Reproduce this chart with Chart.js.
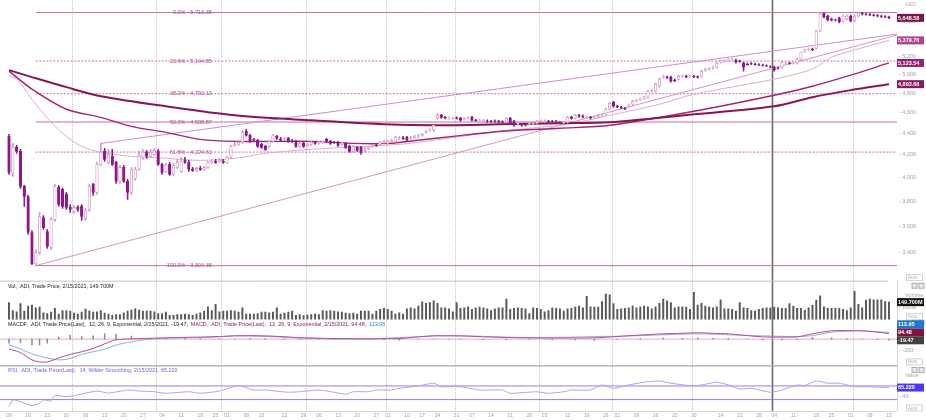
<!DOCTYPE html>
<html>
<head>
<meta charset="utf-8">
<script src="https://cdn.jsdelivr.net/npm/chart.js@4.4.1/dist/chart.umd.min.js"></script>
<style>
  html, body { margin: 0; padding: 0; background: #fff; }
  #wrap { width: 926px; height: 420px; }
</style>
</head>
<body>
<div id="wrap"><canvas id="chart"></canvas></div>
<script>
// daily candles [open, high, low, close], .ADI
const ohlc = [
  [4372,4391,4026,4044],[4035,4305,4008,4268],[4268,4287,4213,4232],[4232,4250,3906,3923],[3923,3931,3756,3838],
  [3838,3847,3535,3550],[3550,3565,3312,3319],[3319,3421,3304.36,3399],[3399,3707,3384,3675],[3667,3683,3573,3588],
  [3558,3573,3429,3444],[3436,3667,3421,3652],[3652,3940,3636,3923],[3914,3931,3756,3772],[3897,3906,3740,3756],
  [3855,3872,3732,3748],[3748,3772,3707,3732],[3715,3764,3699,3748],[3748,3764,3715,3732],[3756,3772,3644,3675],
  [3659,3740,3644,3723],[3732,3940,3715,3923],[3940,3948,3847,3872],[3872,4132,3855,4114],[4114,4305,4105,4222],
  [4232,4259,4141,4159],[4132,4250,4123,4204],[4186,4250,4105,4114],[4132,4141,3948,3965],[3965,4105,3948,4087],
  [4087,4105,3957,3965],[3965,3982,3813,3872],[3872,4087,3855,4070],[3991,4087,3974,4070],[4070,4232,4061,4186],
  [4177,4250,4159,4222],[4222,4241,4168,4186],[4186,4250,4177,4222],[4204,4259,4195,4241],[4232,4250,4105,4114],
  [4114,4123,4026,4044],[4052,4123,4044,4105],[4114,4132,4017,4026],[4026,4123,4017,4105],[4087,4159,4078,4132],
  [4052,4177,4044,4141],[4150,4177,4123,4132],[4132,4150,4052,4070],[4070,4087,4052,4061],[4061,4087,4052,4078],
  [4078,4096,4061,4070],[4070,4096,4061,4087],[4087,4141,4078,4132],[4132,4159,4123,4141],[4141,4159,4123,4132],
  [4141,4168,4132,4150],[4141,4159,4123,4132],[4132,4186,4123,4177],[4177,4287,4168,4278],[4287,4315,4278,4296],
  [4296,4334,4287,4315],[4315,4429,4305,4410],[4419,4438,4372,4381],[4381,4391,4315,4324],[4343,4353,4324,4334],
  [4334,4343,4268,4278],[4296,4305,4259,4268],[4278,4287,4241,4250],[4278,4334,4268,4324],[4324,4391,4315,4381],
  [4372,4381,4343,4353],[4343,4362,4324,4338],[4348,4362,4334,4353],[4353,4362,4315,4324],[4329,4343,4315,4324],
  [4324,4334,4268,4278],[4278,4315,4268,4305],[4305,4315,4268,4278],[4287,4305,4278,4296],[4296,4324,4287,4315],
  [4315,4324,4296,4305],[4305,4324,4296,4315],[4315,4334,4305,4324],[4343,4353,4315,4324],[4324,4334,4296,4305],
  [4315,4324,4305,4310],[4315,4324,4278,4287],[4296,4315,4287,4305],[4305,4315,4259,4268],[4278,4287,4222,4232],
  [4232,4287,4222,4278],[4268,4278,4232,4241],[4268,4278,4204,4222],[4241,4268,4232,4259],[4259,4278,4250,4268],
  [4273,4296,4268,4287],[4287,4296,4278,4282],[4296,4324,4287,4315],[4315,4334,4305,4324],[4305,4334,4296,4324],
  [4324,4343,4315,4334],[4324,4372,4315,4362],[4353,4372,4343,4358],[4358,4372,4343,4348],[4362,4372,4324,4334],
  [4353,4372,4343,4358],[4358,4381,4353,4367],[4372,4391,4362,4376],[4381,4400,4372,4391],[4410,4429,4400,4419],
  [4424,4443,4419,4433],[4429,4477,4419,4477],[4545,4595,4536,4575],[4575,4585,4545,4555],[4555,4565,4540,4550],
  [4545,4560,4536,4548],[4548,4560,4536,4552],[4550,4560,4536,4545],[4545,4555,4516,4526],[4540,4555,4530,4545],
  [4550,4565,4540,4555],[4555,4565,4516,4526],[4526,4536,4516,4521],[4526,4536,4516,4528],[4521,4536,4512,4526],
  [4521,4530,4506,4516],[4516,4526,4506,4512],[4521,4530,4506,4516],[4516,4526,4502,4507],[4512,4521,4502,4507],
  [4511,4550,4502,4545],[4545,4555,4487,4497],[4516,4526,4467,4477],[4492,4502,4482,4495],[4487,4497,4467,4477],
  [4482,4492,4472,4477],[4492,4506,4482,4497],[4492,4506,4482,4497],[4497,4526,4487,4516],[4516,4530,4506,4521],
  [4516,4530,4506,4518],[4516,4526,4502,4511],[4516,4526,4506,4514],[4514,4526,4502,4511],[4506,4516,4492,4502],
  [4502,4516,4492,4506],[4506,4565,4497,4555],[4555,4565,4536,4545],[4545,4585,4536,4575],[4575,4585,4555,4565],
  [4565,4580,4550,4560],[4555,4570,4545,4558],[4555,4565,4540,4550],[4555,4565,4545,4556],[4560,4580,4550,4570],
  [4575,4590,4565,4585],[4585,4645,4575,4635],[4635,4706,4625,4696],[4706,4716,4655,4666],[4666,4676,4650,4660],
  [4655,4665,4640,4650],[4645,4655,4630,4642],[4666,4686,4655,4676],[4686,4727,4676,4716],[4716,4732,4706,4721],
  [4732,4747,4722,4737],[4747,4768,4737,4758],[4758,4830,4747,4819],[4819,4835,4809,4825],[4819,4904,4809,4893],
  [4872,4958,4862,4947],[4968,4990,4958,4979],[4968,4979,4952,4963],[4968,4979,4915,4926],[4936,4947,4920,4931],
  [4947,4990,4936,4979],[4979,4990,4968,4984],[4979,4990,4963,4974],[4979,4990,4968,4981],[4979,4990,4963,4974],
  [4974,4984,4958,4968],[4979,5044,4968,5033],[5044,5066,5033,5055],[5055,5072,5044,5061],[5066,5088,5055,5077],
  [5077,5132,5066,5121],[5132,5155,5121,5143],[5143,5160,5132,5149],[5155,5177,5143,5166],[5166,5177,5155,5168],
  [5155,5166,5121,5132],[5143,5155,5132,5138],[5121,5132,5033,5077],[5110,5121,5099,5105],[5116,5127,5105,5113],
  [5110,5121,5099,5104],[5104,5116,5093,5099],[5099,5110,5088,5097],[5093,5104,5082,5088],[5082,5093,5071,5077],
  [5077,5088,5033,5044],[5066,5077,5055,5064],[5077,5143,5066,5132],[5121,5132,5110,5123],[5123,5132,5110,5119],
  [5121,5138,5110,5127],[5121,5177,5110,5166],[5166,5245,5155,5245],[5256,5279,5245,5268],[5274,5290,5262,5279],
  [5279,5290,5262,5273],[5290,5501,5279,5490],[5490,5705,5478,5696],[5705,5708,5647,5659],[5671,5683,5610,5622],
  [5634,5646,5610,5622],[5622,5634,5610,5620],[5647,5659,5586,5598],[5610,5683,5598,5671],[5634,5683,5622,5671],
  [5671,5683,5598,5610],[5610,5683,5598,5671],[5671,5713.38,5659,5708],[5708,5712,5683,5696],[5696,5705,5683,5690],
  [5690,5700,5675,5683],[5683,5694,5670,5677],[5677,5688,5660,5671],[5671,5683,5655,5665],[5665,5675,5650,5660],
  [5660,5670,5640,5648.58]
];

// volume, millions
const volume = [
  145,76,64,136,70,115,124,100,106,55, 48,61,94,45,76,76,70,52,45,61,
  88,70,61,64,76,52,45,33,39,39, 55,70,79,91,79,70,70,70,64,48,
  48,61,33,33,39,39,45,39,33,45, 55,70,109,76,130,64,70,70,76,70,
  61,100,45,45,45,48,61,61,55,61, 100,45,52,61,70,33,39,30,36,39,
  45,39,76,70,76,70,64,61,52,48, 52,45,70,70,70,45,70,85,94,85,
  70,45,55,45,91,100,91,115,152,139, 145,161,139,100,100,91,64,145,94,100,
  109,85,100,106,100,91,76,91,100,100, 176,85,94,100,94,91,48,100,94,85,
  64,76,100,94,91,70,91,94,106,115, 100,200,109,106,106,155,221,215,136,85,
  91,94,100,115,100,109,115,109,91,109, 139,176,161,145,100,109,109,106,85,236,
  124,139,115,109,100,109,170,91,91,85, 70,145,100,94,76,70,85,94,100,100,
  106,100,94,94,136,115,94,94,79,100, 121,167,206,109,94,94,94,94,85,76,
  100,245,130,100,167,176,170,170,170,155,149.7
];

// moving averages, [day index, value]
const ma50 = [[0,4980],[2,4947],[6,4737],[11,4506],[15,4371],[19,4278],[24,4222],[32,4186],[41,4168],[50,4150],
  [59,4168],[67,4213],[79,4250],[102,4296],[111,4334],[128,4419],[146,4487],[157,4575],[170,4685],[179,4788],
  [200,4947],[210,5056],[215,5189],[220,5257],[230,5379.76]];
const ma100 = [[0,5034],[6,4841],[15,4635],[24,4555],[32,4467],[41,4409],[50,4343],[59,4324],[79,4324],[90,4305],
  [99,4305],[107,4334],[116,4371],[129,4419],[144,4448],[157,4477],[179,4615],[200,4778],[210,4872],[220,4990],
  [230,5123.54]];
const ma200 = [[0,5045],[6,4969],[15,4862],[24,4768],[41,4665],[59,4575],[79,4525],[98,4487],[111,4477],[128,4487],
  [144,4497],[157,4506],[179,4585],[200,4665],[210,4758],[220,4831],[230,4893.68]];

// trend lines, [day index, value]
const upperTrend = [[24,4305],[232.1,5454]];
const lowerTrend = [[7,3304.36],[232.1,5442]];

// fibonacci retracement
const fibPct = ['0.0','23.6','38.2','50.0','61.8','100.0'];
const fibValue = [5713.38,5144.85,4793.13,4508.87,4224.61,3304.36];
const fibDashed = [false,true,true,false,true,false];

// MACD, sampled
const macdIdx = [0,3,6,8,10,13,16,19,22,25,28,32,37,41,46,50,55,59,63,67,72,76,81,85,90,94,98,102,107,111,115,118,
  124,130,136,142,148,153,159,165,171,176,180,184,188,193,197,202,206,210,215,219,223,227,230];
const macdLine = [-166,-230,-354,-388,-388,-320,-260,-215,-160,-80,-12,5,15,22,30,35,45,56,60,56,40,22,15,10,8,5,8,10,
  39,56,58,56,40,28,22,18,20,22,45,70,91,100,108,100,90,60,39,35,39,91,142,145,142,118,94.48];
const macdSignal = [-97,-166,-251,-290,-320,-354,-330,-260,-215,-170,-100,-46,0,17,22,27,40,56,52,44,35,27,15,0,3,5,15,27,
  40,56,56,56,48,35,27,30,35,44,50,60,74,85,91,85,75,62,56,48,44,60,120,135,142,128,113.95];

// RSI 14, sampled
const rsiIdx = [0,1,3,6,8,9,11,12,15,17,23,26,31,34,38,41,47,50,55,60,64,67,73,76,81,85,88,90,94,96,100,102,107,111,
  113,118,123,129,131,138,141,145,147,152,155,158,162,166,170,173,179,182,185,188,191,194,199,202,206,208,211,214,
  217,221,223,230];
const rsiVals = [9,29,24,12,19,29,26,41.5,38.5,41.5,55,49,58,55,53,48.5,53,48.5,55,71,58,58,51.5,53,58,51.5,45.6,53,53,
  58,58,63,70,78,68,68,58,58,48.5,53,48.5,53,58,58,73,63,73,81,84.7,78,70,75,81,73,61,63,51.5,58,73,71,84.7,78,78,
  68,68,65.22];

// time axis: weekly labels and month boundaries (day index)
const tickIdx = [0,5,10,15,20,25,30,35,40,45,50,54,57,62,66,72,77,81,86,91,96,99,104,108,112,117,121,126,131,136,
  140,146,151,156,159,164,169,174,179,186,191,196,200,205,211,215,220,225,230];
const tickText = ['09','16','23','30','06','13','20','27','04','11','18','25','01','08','15','22','29','06','13','20',
  '27','03','10','17','24','31','07','14','21','28','05','12','19','26','02','09','16','23','30','14','21','28','04',
  '11','18','25','01','08','15'];
const monthIdx = [16.5,38.5,55.5,77.5,98.5,116.5,138.5,157.5,178.5,199.5,220.5];
const yearIdx = 199.5;

const priceTicks = [3400,3600,3800,4000,4200,4400,4600,4800,5000,5200,5600];

const xLeft = -2.35, xRight = 232.1;
const upCol = 'rgb(214,150,196)', dnCol = 'rgb(140,26,136)';
const fibCol = 'rgb(198,110,160)';
const FONT = '"Liberation Sans", Arial, sans-serif';
Chart.defaults.font.family = FONT;

const isUp = ohlc.map(r => r[3] >= r[0]);
const pts = arr => arr.map(p => ({ x: p[0], y: p[1] }));
const fmt2 = v => v.toLocaleString('en-US', { minimumFractionDigits: 2, maximumFractionDigits: 2 });

const datasets = [];

fibValue.forEach((v, k) => datasets.push({
  type: 'line', yAxisID: 'yP', data: [{ x: 7, y: v }, { x: xRight, y: v }],
  borderColor: fibCol, borderWidth: 1, borderDash: fibDashed[k] ? [2, 1.5] : [], pointRadius: 0, order: 20
}));

datasets.push(
  { type: 'line', yAxisID: 'yP', data: pts(upperTrend), borderColor: 'rgb(202,140,214)', borderWidth: 1, pointRadius: 0, order: 15 },
  { type: 'line', yAxisID: 'yP', data: pts(lowerTrend), borderColor: 'rgb(216,150,192)', borderWidth: 1, pointRadius: 0, order: 15 },
  { type: 'line', yAxisID: 'yP', data: pts(ma50), borderColor: 'rgb(222,172,204)', borderWidth: 1, pointRadius: 0, tension: 0.3, order: 14 },
  { type: 'line', yAxisID: 'yP', data: pts(ma100), borderColor: 'rgb(170,34,112)', borderWidth: 1.4, pointRadius: 0, tension: 0.3, order: 13 },
  { type: 'line', yAxisID: 'yP', data: pts(ma200), borderColor: 'rgb(138,20,86)', borderWidth: 2, pointRadius: 0, tension: 0.3, order: 12 },
  {
    type: 'bar', yAxisID: 'yP', data: ohlc.map((r, i) => ({ x: i, y: [r[2], r[1]] })),
    backgroundColor: isUp.map(u => u ? upCol : dnCol), barThickness: 0.9, grouped: false, order: 6
  },
  {
    type: 'bar', yAxisID: 'yP', data: ohlc.map((r, i) => ({ x: i, y: [r[0], r[3]] })),
    backgroundColor: isUp.map(u => u ? '#ffffff' : dnCol), borderColor: isUp.map(u => u ? upCol : dnCol),
    borderWidth: 0.8, borderSkipped: false, barThickness: 2.6, grouped: false, order: 5
  },
  {
    type: 'bar', yAxisID: 'yV', data: volume.map((v, i) => ({ x: i, y: v })),
    backgroundColor: '#585858', barThickness: 1.3, grouped: false, order: 5
  },
  { type: 'line', yAxisID: 'yM', data: [{ x: xLeft, y: 0 }, { x: xRight, y: 0 }], borderColor: 'rgb(228,168,204)', borderWidth: 1, pointRadius: 0, order: 9 },
  {
    type: 'bar', yAxisID: 'yM', data: macdIdx.map((i, k) => ({ x: i, y: macdLine[k] - macdSignal[k] })),
    backgroundColor: '#8a8a8a', barThickness: 0.8, grouped: false, order: 8
  },
  { type: 'line', yAxisID: 'yM', data: macdIdx.map((i, k) => ({ x: i, y: macdSignal[k] })), borderColor: 'rgb(124,182,232)', borderWidth: 1, pointRadius: 0, tension: 0.3, order: 4 },
  { type: 'line', yAxisID: 'yM', data: macdIdx.map((i, k) => ({ x: i, y: macdLine[k] })), borderColor: 'rgb(196,72,140)', borderWidth: 1, pointRadius: 0, tension: 0.3, order: 3 },
  { type: 'line', yAxisID: 'yR', data: [{ x: xLeft, y: 70 }, { x: xRight, y: 70 }], borderColor: 'rgb(140,128,246)', borderWidth: 1, pointRadius: 0, order: 9 },
  { type: 'line', yAxisID: 'yR', data: [{ x: xLeft, y: 30 }, { x: xRight, y: 30 }], borderColor: 'rgb(140,128,246)', borderWidth: 1, pointRadius: 0, order: 9 },
  { type: 'line', yAxisID: 'yR', data: rsiIdx.map((i, k) => ({ x: i, y: rsiVals[k] })), borderColor: 'rgb(170,160,250)', borderWidth: 1, pointRadius: 0, tension: 0.2, order: 3 }
);

function rightAxis(weight, min, max, ticks, label) {
  return {
    type: 'linear', position: 'right', stack: 'panes', stackWeight: weight, min: min, max: max, bounds: 'data',
    grid: { display: false, drawTicks: false }, border: { display: false },
    afterBuildTicks: s => { s.ticks = ticks.map(v => ({ value: v })); },
    afterFit: s => { s.width = 29; },
    ticks: { autoSkip: false, padding: 2, color: '#a2a2a2', font: { size: 5.5 }, callback: label }
  };
}

// the chart area starts 6.3px below the canvas top, so the price pane gets 274.7px
const scales = {
  x: {
    type: 'linear', min: xLeft, max: xRight, offset: false, bounds: 'data',
    grid: { display: false }, border: { display: false },
    afterFit: s => { s.height = 9; },
    ticks: { display: false }
  },
  yP: Object.assign(rightAxis(274.7, 3198.6, 5804.2, priceTicks, v => '- ' + v.toLocaleString('en-US')), { type: 'logarithmic' }),
  yV: rightAxis(40, -15, 339, [100], v => '- ' + v + 'M'),
  yM: rightAxis(45, -456, 313, [-200], v => '- ' + v),
  yR: rightAxis(45, -3.5, 128.8, [40], v => '- ' + v)
};

function text(ctx, s, x, y, color, size, align, bold) {
  ctx.font = (bold ? 'bold ' : '') + size + 'px ' + FONT;
  ctx.fillStyle = color;
  ctx.textAlign = align || 'left';
  ctx.textBaseline = 'middle';
  ctx.fillText(s, x, y);
  return ctx.measureText(s).width;
}

function valueBox(ctx, x, y, bg, s) {
  ctx.fillStyle = bg;
  ctx.fillRect(x, y - 4, 27, 8);
  text(ctx, s, x + 1, y + 0.4, '#ffffff', 5.5, 'left', true);
}

function autoTag(ctx, x, y) {
  ctx.strokeStyle = '#c8c8c8'; ctx.lineWidth = 0.8;
  ctx.strokeRect(x + 0.5, y - 3, 16, 6);
  text(ctx, 'Auto', x + 2, y + 0.3, '#b0b0b0', 4.5);
}

function icons(ctx, x, y) {
  ctx.strokeStyle = '#9a9a9a'; ctx.lineWidth = 0.8;
  ctx.fillStyle = '#e8e8e8';
  ctx.fillRect(x, y - 2.5, 5, 5); ctx.strokeRect(x, y - 2.5, 5, 5);
  ctx.fillRect(x + 7, y - 2.5, 5, 5); ctx.strokeRect(x + 7, y - 2.5, 5, 5);
}

const overlay = {
  id: 'overlay',
  beforeDatasetsDraw(chart) {
    const { ctx, chartArea: a } = chart;
    const { x, yV, yR } = chart.scales;
    ctx.save();
    monthIdx.forEach(m => {
      const px = Math.round(x.getPixelForValue(m)) + 0.5;
      ctx.beginPath();
      if (m === yearIdx) { ctx.strokeStyle = '#6a6a6a'; ctx.lineWidth = 1.6; ctx.setLineDash([]); }
      else { ctx.strokeStyle = '#c6c6c6'; ctx.lineWidth = 1; ctx.setLineDash([1, 1]); }
      ctx.moveTo(px, 0); ctx.lineTo(px, a.bottom); ctx.stroke();
    });
    ctx.setLineDash([]);
    ctx.strokeStyle = '#c4c4c4'; ctx.lineWidth = 1;
    ctx.beginPath(); ctx.moveTo(a.left, yV.top + 0.5); ctx.lineTo(a.right - 9, yV.top + 0.5); ctx.stroke();
    ctx.strokeStyle = '#a8a8a8'; ctx.lineWidth = 1.4;
    ctx.beginPath(); ctx.moveTo(a.left, yR.top); ctx.lineTo(a.right, yR.top); ctx.stroke();
    ctx.strokeStyle = '#d4d4d4'; ctx.lineWidth = 1;
    ctx.beginPath(); ctx.moveTo(a.left, a.bottom + 0.5); ctx.lineTo(a.right, a.bottom + 0.5); ctx.stroke();
    ctx.beginPath(); ctx.moveTo(a.right + 0.5, yV.top); ctx.lineTo(a.right + 0.5, a.bottom); ctx.stroke();
    ctx.restore();
  },
  afterDraw(chart) {
    const { ctx, chartArea: a } = chart;
    const { x, yP, yV, yM, yR } = chart.scales;
    ctx.save();

    // weekly date labels under the time axis
    tickIdx.forEach((v, k) => text(ctx, tickText[k], x.getPixelForValue(v), a.bottom + 4.5, '#a4a4a4', 5, 'center'));

    // fibonacci labels
    const lx = x.getPixelForValue(53);
    fibValue.forEach((v, k) => {
      text(ctx, fibPct[k] + '% - ' + fmt2(v), lx, yP.getPixelForValue(v), 'rgb(172,74,134)', 5.5, 'right');
    });

    // pane headers
    const lastVol = volume[volume.length - 1];
    const n = macdLine.length - 1;
    const hist = macdLine[n] - macdSignal[n];
    const hs = 5.4;
    text(ctx, 'Vol, .ADI, Trade Price, 2/15/2021, ' + lastVol.toFixed(3) + 'M', 8, yV.top + 6, '#222', hs);
    let hx = 8;
    const hy = yM.top + 4;
    hx += text(ctx, 'MACDF, .ADI, Trade Price(Last),  12, 26, 9, Exponential, 2/15/2021, ' + hist.toFixed(2) + ',  ', hx, hy, '#222', hs);
    hx += text(ctx, 'MACD, .ADI, Trade Price(Last),  12, 26, 9, Exponential, 2/15/2021, ' + macdLine[n].toFixed(2) + ',  ', hx, hy, 'rgb(150,30,90)', hs);
    text(ctx, macdSignal[n].toFixed(2), hx, hy, 'rgb(40,130,220)', hs);
    text(ctx, 'RSI, .ADI, Trade Price(Last),  14, Wilder Smoothing, 2/15/2021, ' + rsiVals[rsiVals.length - 1].toFixed(3),
      8, yR.top + 5, 'rgb(110,96,246)', hs);

    // right side tags
    const rx = a.right;
    text(ctx, 'AED', rx + 8, 4, '#b4b4b4', 5.5);
    text(ctx, 'Volume', rx + 8, yV.top + 15, '#a8a8a8', 5.5);
    text(ctx, 'Value', rx + 8, yR.top + 10, '#a8a8a8', 5.5);
    autoTag(ctx, rx + 9, yP.bottom - 3);
    autoTag(ctx, rx + 9, yV.bottom - 4);
    autoTag(ctx, rx + 9, yM.bottom - 4);
    autoTag(ctx, rx + 9, yR.bottom - 3);
    icons(ctx, rx + 15, yV.top + 5);
    icons(ctx, rx + 15, yM.top + 2);
    icons(ctx, rx + 15, yR.top + 4);

    // last value boxes
    const last = ohlc[ohlc.length - 1][3];
    const priceBoxes = [
      [last, 'rgb(122,20,78)'],
      [ma50[ma50.length - 1][1], 'rgb(176,64,138)'],
      [ma100[ma100.length - 1][1], 'rgb(156,32,112)'],
      [ma200[ma200.length - 1][1], 'rgb(140,24,92)']
    ];
    priceBoxes.forEach(b => valueBox(ctx, rx, yP.getPixelForValue(b[0]), b[1], fmt2(b[0])));
    valueBox(ctx, rx, yV.getPixelForValue(lastVol), '#111111', lastVol.toFixed(3) + 'M');

    const mBoxes = [
      [hist, 'rgb(66,66,66)'],
      [macdLine[n], 'rgb(128,20,64)'],
      [macdSignal[n], 'rgb(30,120,208)']
    ];
    let limit = Infinity;
    mBoxes.forEach(b => {
      const py = Math.min(yM.getPixelForValue(b[0]), limit);
      valueBox(ctx, rx, py, b[1], b[0].toFixed(2));
      limit = py - 8;
    });
    const rLast = rsiVals[rsiVals.length - 1];
    valueBox(ctx, rx, yR.getPixelForValue(rLast), 'rgb(76,56,240)', rLast.toFixed(3));
    ctx.restore();
  }
};

new Chart(document.getElementById('chart'), {
  type: 'bar',
  data: { datasets: datasets },
  options: {
    responsive: true,
    maintainAspectRatio: false,
    animation: false,
    layout: { padding: 0, autoPadding: false },
    plugins: { legend: { display: false }, tooltip: { enabled: false } },
    scales: scales
  },
  plugins: [overlay]
});
</script>
</body>
</html>
